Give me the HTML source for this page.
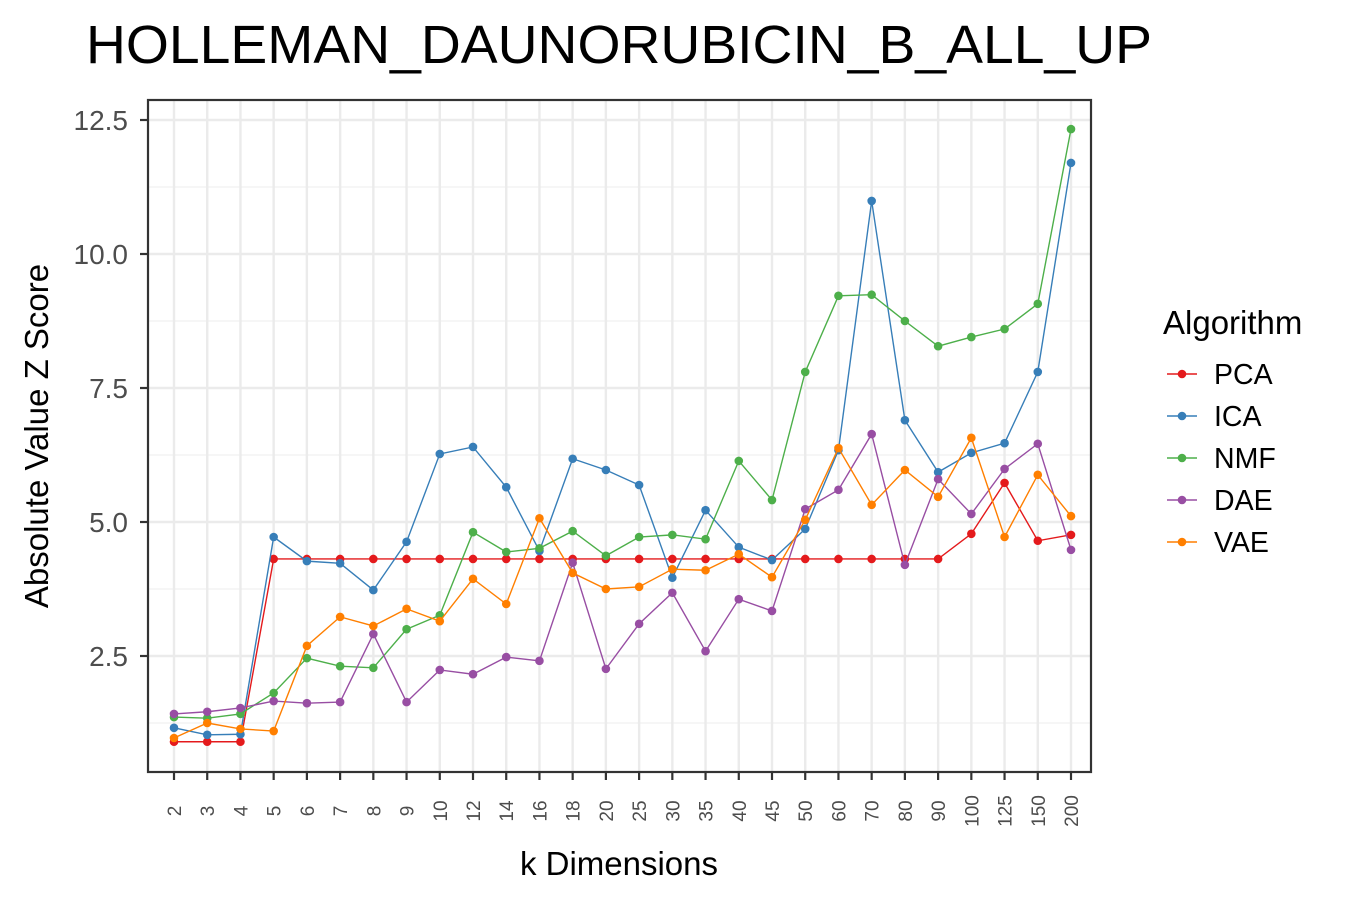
<!DOCTYPE html>
<html><head><meta charset="utf-8"><style>
body{margin:0;background:#fff;font-family:"Liberation Sans",Arial,sans-serif}
</style></head><body>
<svg id="chart" width="1350" height="900" xmlns="http://www.w3.org/2000/svg" font-family="Liberation Sans, Arial, sans-serif">
<rect width="1350" height="900" fill="#fff"/>
<text x="86" y="63" font-size="54" fill="#000" textLength="1066" lengthAdjust="spacingAndGlyphs">HOLLEMAN_DAUNORUBICIN_B_ALL_UP</text>
<g id="grid"></g><g id="series"></g><g id="axes"></g><g id="legend"></g>
</svg>
<script>
const categories=["2","3","4","5","6","7","8","9","10","12","14","16","18","20","25","30","35","40","45","50","60","70","80","90","100","125","150","200"];
const pca=[0.90,0.90,0.90,4.31,4.31,4.31,4.31,4.31,4.31,4.31,4.31,4.31,4.31,4.31,4.31,4.31,4.31,4.31,4.31,4.31,4.31,4.31,4.31,4.31,4.78,5.73,4.65,4.76];
const ica=[1.16,1.03,1.04,4.72,4.27,4.23,3.73,4.63,6.27,6.40,5.65,4.46,6.18,5.97,5.69,3.96,5.22,4.53,4.29,4.87,6.34,10.99,6.90,5.93,6.29,6.47,7.80,11.70];
const nmf=[1.36,1.34,1.42,1.81,2.46,2.31,2.28,3.00,3.26,4.81,4.44,4.51,4.83,4.37,4.72,4.76,4.68,6.14,5.41,7.80,9.22,9.24,8.75,8.28,8.45,8.60,9.07,12.33];
const dae=[1.42,1.46,1.53,1.66,1.62,1.64,2.91,1.64,2.24,2.16,2.48,2.41,4.24,2.26,3.10,3.68,2.59,3.56,3.34,5.24,5.60,6.64,4.20,5.80,5.15,5.99,6.46,4.48];
const vae=[0.97,1.25,1.14,1.10,2.69,3.23,3.06,3.38,3.15,3.94,3.47,5.07,4.05,3.75,3.79,4.12,4.10,4.40,3.97,5.04,6.38,5.32,5.97,5.47,6.57,4.72,5.88,5.11];
const yTicks=[2.5,5.0,7.5,10.0,12.5];
const seriesNames=["PCA","ICA","NMF","DAE","VAE"];
const seriesColors=["#e41a1c","#377eb8","#4daf4a","#984ea3","#ff7f00"];
const seriesData=[pca,ica,nmf,dae,vae];

const NS="http://www.w3.org/2000/svg";
const L=148,R=1091,T=100,B=772;
const x=i=>174+i*(1071-174)/(categories.length-1);
const y=v=>790-v*53.6;
function mk(tag,attrs,parent){const e=document.createElementNS(NS,tag);for(const k in attrs)e.setAttribute(k,attrs[k]);parent.appendChild(e);return e;}
const grid=document.getElementById('grid'),ser=document.getElementById('series'),axes=document.getElementById('axes'),leg=document.getElementById('legend');
for(let v=1.25;v<13;v+=2.5){const yy=y(v);if(yy>T&&yy<B){const g=mk('line',{x1:L,x2:R,y1:yy,y2:yy,stroke:'#f0f0f0','stroke-width':1.2},grid);

}}
yTicks.forEach(v=>{const g=mk('line',{x1:L,x2:R,y1:y(v),y2:y(v),stroke:'#ebebeb','stroke-width':2.4},grid);


const tk=mk('line',{x1:L-8,x2:L,y1:y(v),y2:y(v),stroke:'#333','stroke-width':2.2},axes);


const t=mk('text',{x:L-20,y:y(v)+10,'text-anchor':'end','font-size':28,fill:'#4d4d4d'},axes);t.textContent=v.toFixed(1);

});
categories.forEach((c,i)=>{const g=mk('line',{x1:x(i),x2:x(i),y1:T,y2:B,stroke:'#ebebeb','stroke-width':2.4},grid);


const tk=mk('line',{x1:x(i),x2:x(i),y1:B,y2:B+8,stroke:'#333','stroke-width':2.2},axes);


const t=mk('text',{x:0,y:0,'text-anchor':'middle','font-size':19,fill:'#4d4d4d',transform:`translate(${x(i)+7},811) rotate(-90)`},axes);t.textContent=c;

});
seriesData.forEach((d,s)=>{const pts=d.map((v,i)=>x(i)+','+y(v)).join(' ');
const pl=mk('polyline',{points:pts,fill:'none',stroke:seriesColors[s],'stroke-width':1.4},ser);


d.forEach((v,i)=>{const c=mk('circle',{cx:x(i),cy:y(v),r:4.3,fill:seriesColors[s]},ser);

});
const ly=374+s*42;
const ll=mk('line',{x1:1167,x2:1197,y1:ly,y2:ly,stroke:seriesColors[s],'stroke-width':1.4},leg);


const lc=mk('circle',{cx:1182,cy:ly,r:4.3,fill:seriesColors[s]},leg);


const lt=mk('text',{x:1214,y:ly+10,'font-size':28.5,fill:'#000'},leg);lt.textContent=seriesNames[s];

});
const fr=mk('rect',{x:L,y:T,width:R-L,height:B-T,fill:'none',stroke:'#333','stroke-width':2.2},axes);


const xt=mk('text',{x:619,y:875,'text-anchor':'middle','font-size':33,fill:'#000'},axes);xt.textContent='k Dimensions';


const yt=mk('text',{x:0,y:0,'text-anchor':'middle','font-size':33,fill:'#000',transform:'translate(48,436) rotate(-90)'},axes);yt.textContent='Absolute Value Z Score';


const lg=mk('text',{x:1163,y:334,'font-size':33,fill:'#000'},leg);lg.textContent='Algorithm';


</script>
</body></html>
